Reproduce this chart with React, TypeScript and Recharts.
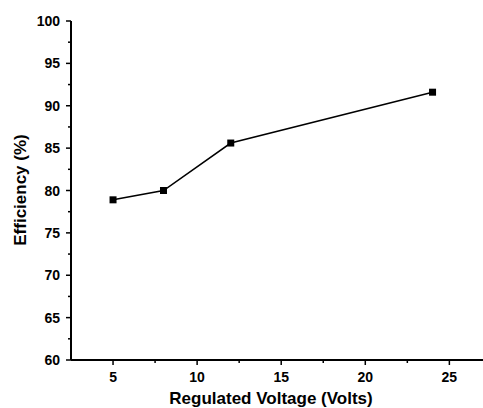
import { LineChart, Line, XAxis, YAxis } from 'recharts';

// Regulated output voltage (V) vs measured efficiency (%)
const voltages = [5, 8, 12, 24];
const efficiency = [78.9, 80.0, 85.6, 91.6];

const xTicks = [5, 7.5, 10, 12.5, 15, 17.5, 20, 22.5, 25];
const yTicks = [60, 62.5, 65, 67.5, 70, 72.5, 75, 77.5, 80, 82.5, 85, 87.5, 90, 92.5, 95, 97.5, 100];

const data = voltages.map((v, i) => ({ v, eff: efficiency[i] }));

const FONT = '"Liberation Sans", Arial, sans-serif';
const isMajor = (v: number) => v % 5 === 0;

const labelStyle = { fill: '#000', stroke: 'none', fontWeight: 700, fontFamily: FONT };

const BottomTick = ({ x, y, payload }: any) => {
  const major = isMajor(payload.value);
  return (
    <g>
      <line x1={x} x2={x} y1={y} y2={y + (major ? 5 : 3)} stroke="#000" strokeWidth={1.5} />
      {major && (
        <text x={x} y={y + 22} textAnchor="middle" fontSize={14} style={labelStyle}>
          {payload.value}
        </text>
      )}
    </g>
  );
};

const TopTick = ({ x, y, payload }: any) => {
  const major = isMajor(payload.value);
  return <line x1={x} x2={x} y1={y} y2={y + (major ? 6 : 3)} stroke="#000" strokeWidth={1.5} />;
};

const LeftTick = ({ x, y, payload }: any) => {
  const major = isMajor(payload.value);
  return (
    <g>
      <line x1={x} x2={x - (major ? 5 : 3)} y1={y} y2={y} stroke="#000" strokeWidth={1.5} />
      {major && (
        <text x={x - 11} y={y + 5} textAnchor="end" fontSize={14} style={labelStyle}>
          {payload.value}
        </text>
      )}
    </g>
  );
};

const SquareDot = ({ cx, cy, index }: any) => (
  <rect key={`dot-${index}`} x={cx - 3.5} y={cy - 3.5} width={7} height={7} fill="#000" />
);

const App = () => {
  return (
    <div style={{ position: 'absolute', left: 0, top: 0, background: '#fff' }}>
      <LineChart width={483} height={408} data={data} margin={{ top: 21, right: 0, bottom: 0, left: 0 }}>
        <XAxis
          dataKey="v"
          type="number"
          domain={[2.5, 27]}
          allowDataOverflow
          ticks={xTicks}
          interval={0}
          height={48}
          tickSize={0}
          tickMargin={0}
          tickLine={false}
          tick={<BottomTick />}
          axisLine={{ stroke: '#000', strokeWidth: 2 }}
          label={{
            content: () => (
              <text x={271} y={404} textAnchor="middle" fontSize={17} style={labelStyle}>
                Regulated Voltage (Volts)
              </text>
            ),
          }}
        />
        <XAxis
          xAxisId="top"
          orientation="top"
          dataKey="v"
          type="number"
          domain={[2.5, 27]}
          allowDataOverflow
          ticks={xTicks}
          interval={0}
          height={0}
          tickSize={0}
          tickMargin={0}
          tickLine={false}
          tick={<TopTick />}
          axisLine={{ stroke: '#000', strokeWidth: 2 }}
        />
        <YAxis
          type="number"
          domain={[60, 100]}
          ticks={yTicks}
          interval={0}
          width={71}
          tickSize={0}
          tickMargin={0}
          tickLine={false}
          tick={<LeftTick />}
          axisLine={{ stroke: '#000', strokeWidth: 2 }}
          label={{
            content: () => (
              <text
                x={20}
                y={190}
                transform="rotate(-90 20 190)"
                textAnchor="middle"
                dominantBaseline="central"
                fontSize={17}
                style={labelStyle}
              >
                Efficiency (%)
              </text>
            ),
          }}
        />
        <Line
          dataKey="eff"
          stroke="#000"
          strokeWidth={1.5}
          dot={SquareDot}
          activeDot={false}
          isAnimationActive={false}
        />
      </LineChart>
    </div>
  );
};

export default App;
